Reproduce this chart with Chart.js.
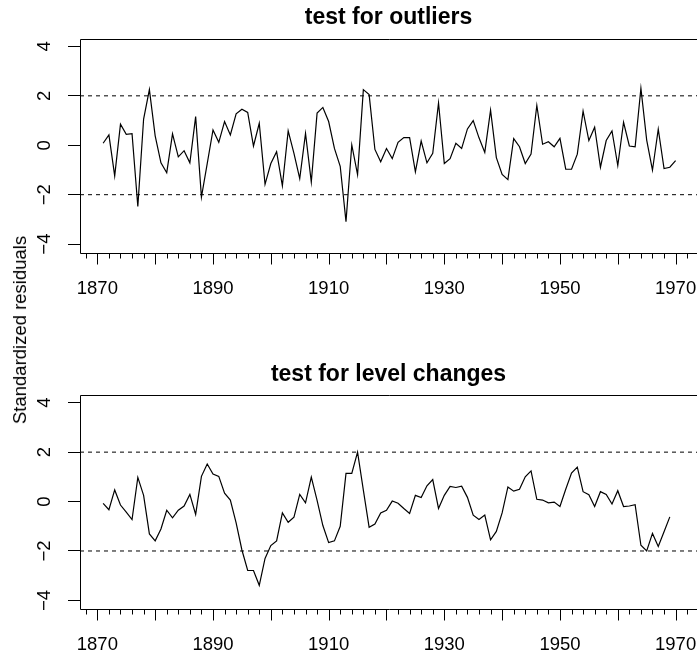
<!DOCTYPE html>
<html>
<head>
<meta charset="utf-8">
<script src="https://cdn.jsdelivr.net/npm/chart.js@4"></script>
<style>
  html, body { margin: 0; padding: 0; background: #fff; overflow: hidden; }
  #wrap { position: relative; width: 697px; height: 660px; }
  .panel { position: absolute; left: 0; width: 697px; height: 330px; }
  #ylab {
    position: absolute; left: 20px; top: 330px;
    transform: translate(-50%, -50%) rotate(-90deg);
    font: 18.5px "Liberation Sans", Arial, sans-serif;
    white-space: nowrap; color: #000;
  }
</style>
</head>
<body>
<div id="wrap">
  <div class="panel" style="top:0"><canvas id="outliers" width="697" height="330"></canvas></div>
  <div class="panel" style="top:330px"><canvas id="levels" width="697" height="330"></canvas></div>
  <div id="ylab">Standardized residuals</div>
</div>
<script>
const startYear = 1871;
const titles = ['test for outliers', 'test for level changes'];
const yTicks = [-4, -2, 0, 2, 4];
const critical = 2;

// standardized residuals, 1871-1970
const outlierResid = [
  0.08, 0.42, -1.24, 0.85, 0.44, 0.47, -2.48, 1.06, 2.25, 0.38,
  -0.71, -1.11, 0.46, -0.47, -0.22, -0.71, 1.16, -2.10, -0.74, 0.62,
  0.12, 0.96, 0.42, 1.27, 1.46, 1.33, -0.03, 0.89, -1.58, -0.74,
  -0.26, -1.64, 0.58, -0.33, -1.35, 0.48, -1.49, 1.30, 1.53, 0.96,
  -0.13, -0.85, -3.09, 0.01, -1.19, 2.25, 2.05, -0.17, -0.67, -0.13,
  -0.54, 0.12, 0.31, 0.31, -1.08, 0.17, -0.71, -0.33, 1.71, -0.74,
  -0.54, 0.08, -0.13, 0.66, 1.00, 0.30, -0.29, 1.42, -0.50, -1.18,
  -1.39, 0.27, -0.06, -0.74, -0.36, 1.61, 0.04, 0.14, -0.06, 0.28,
  -0.97, -0.97, -0.36, 1.38, 0.19, 0.73, -0.89, 0.19, 0.58, -0.82,
  0.93, -0.03, -0.06, 2.31, 0.21, -1.01, 0.65, -0.94, -0.89, -0.62
];

// 1871-1969
const levelResid = [
  -0.07, -0.33, 0.47, -0.14, -0.43, -0.73, 0.98, 0.25, -1.31, -1.59,
  -1.11, -0.35, -0.66, -0.35, -0.18, 0.29, -0.52, 1.02, 1.52, 1.11,
  1.02, 0.34, 0.06, -0.86, -1.96, -2.79, -2.79, -3.39, -2.30, -1.78,
  -1.59, -0.46, -0.84, -0.63, 0.29, -0.05, 0.99, 0.05, -0.97, -1.66,
  -1.59, -1.00, 1.14, 1.14, 2.00, 0.46, -1.04, -0.91, -0.46, -0.35,
  0.02, -0.07, -0.28, -0.48, 0.25, 0.16, 0.64, 0.89, -0.28, 0.25,
  0.61, 0.57, 0.62, 0.17, -0.55, -0.73, -0.55, -1.55, -1.21, -0.46,
  0.59, 0.42, 0.50, 1.00, 1.24, 0.09, 0.06, -0.05, -0.02, -0.20,
  0.50, 1.15, 1.39, 0.40, 0.28, -0.20, 0.40, 0.29, -0.10, 0.44,
  -0.20, -0.18, -0.13, -1.77, -2.00, -1.29, -1.82, -1.22, -0.62
];

const xMin = 1867, xMax = 1973.7;
const yMin = -4.36, yMax = 4.32;
const font = '"Liberation Sans", Arial, Helvetica, sans-serif';

// box round the plot region + tick marks on the time axis
const frame = {
  id: 'frame',
  afterDraw(chart) {
    const { ctx, chartArea: a } = chart;
    const x = chart.scales.x;
    ctx.save();
    ctx.strokeStyle = '#000';
    ctx.lineWidth = 1;
    const l = Math.round(a.left) + 0.5, t = Math.round(a.top) + 0.5, b = Math.round(a.bottom) + 0.5;
    ctx.beginPath();
    ctx.moveTo(a.right + 2, t); ctx.lineTo(l, t); ctx.lineTo(l, b); ctx.lineTo(a.right + 2, b);
    x.ticks.forEach(tk => {
      const px = Math.round(x.getPixelForValue(tk.value)) + 0.5;
      ctx.moveTo(px, b);
      ctx.lineTo(px, b + (tk.value % 10 === 0 ? 11 : 5));
    });
    ctx.stroke();
    ctx.restore();
  }
};

function residualPanel(id, title, values, titlePad, xHeight) {
  const points = values.map((v, i) => ({ x: startYear + i, y: v }));
  const band = level => ({
    data: [{ x: xMin, y: level }, { x: xMax, y: level }],
    borderColor: '#000', borderWidth: 1, borderDash: [4, 4], pointRadius: 0
  });
  const yearTicks = [];
  for (let yr = 1868; yr <= 1972; yr += 2) yearTicks.push({ value: yr });

  new Chart(document.getElementById(id), {
    type: 'line',
    data: {
      datasets: [
        { data: points, borderColor: '#000', borderWidth: 1.2, pointRadius: 0, tension: 0 },
        band(critical),
        band(-critical)
      ]
    },
    options: {
      responsive: false,
      animation: false,
      layout: { padding: 0 },
      plugins: {
        legend: { display: false },
        tooltip: { enabled: false },
        title: {
          display: true, text: title, color: '#000', fullSize: false,
          font: { family: font, size: 23, weight: 'bold' },
          padding: titlePad
        }
      },
      scales: {
        x: {
          type: 'linear', min: xMin, max: xMax,
          afterBuildTicks: s => { s.ticks = yearTicks; },
          afterFit: s => { s.height = xHeight; },
          border: { display: false },
          grid: { display: true, drawOnChartArea: false, tickLength: 25, tickColor: 'rgba(0,0,0,0)' },
          ticks: {
            autoSkip: false, maxRotation: 0, padding: 0, color: '#000',
            font: { family: font, size: 18.5 },
            callback: v => ((v - 1870) % 20 === 0 ? String(v) : '')
          }
        },
        y: {
          min: yMin, max: yMax,
          afterBuildTicks: s => { s.ticks = yTicks.map(v => ({ value: v })); },
          afterFit: s => { s.width = 80; },
          border: { display: false },
          grid: { drawOnChartArea: false, tickLength: 12, tickColor: '#000' },
          ticks: {
            minRotation: 90, maxRotation: 90, crossAlign: 'center', padding: 13, color: '#000',
            font: { family: font, size: 18.5 },
            callback: v => String(v).replace('-', '\u2212')
          }
        }
      }
    },
    plugins: [frame]
  });
}

residualPanel('outliers', titles[0], outlierResid, { top: 4.1, bottom: 6.8 }, 77);
residualPanel('levels', titles[1], levelResid, { top: 30.4, bottom: 6.8 }, 50.7);
</script>
</body>
</html>
